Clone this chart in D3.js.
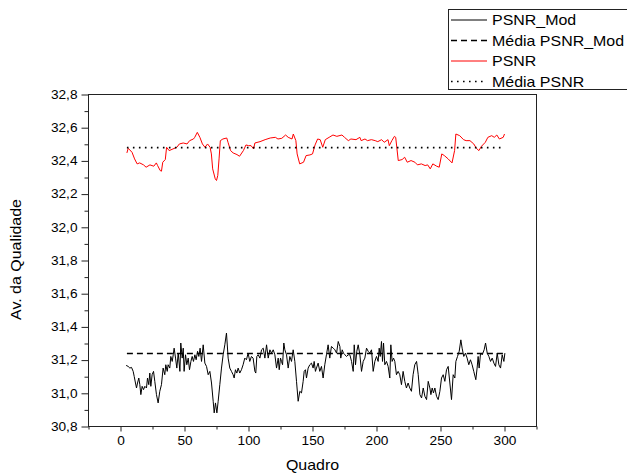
<!DOCTYPE html>
<html>
<head>
<meta charset="utf-8">
<script src="https://cdn.jsdelivr.net/npm/d3@7"></script>
<style>
  html, body { margin: 0; padding: 0; background: #fff; }
  svg { display: block; font-family: "Liberation Sans", Arial, sans-serif; }
</style>
</head>
<body>
<svg id="chart" width="627" height="475"></svg>
<script>
// PSNR per frame (red) and its mean
const psnrFrames = [5,6,9,11,13,15,18,20,23,26,28,29,31,32,33,35,36,38,41,44,46,49,52,54,57,58,60,62,64,66,68,70,71,72,74,75,76,77,78,80,83,84,86,88,91,93,96,98,100,102,104,105,109,113,117,121,123,126,129,131,134,135,137,138,140,143,145,148,150,152,154,156,158,160,163,166,169,173,175,178,180,184,187,188,191,193,196,199,201,204,206,209,210,212,214,215,216,217,220,222,224,227,230,232,235,238,240,242,244,247,249,251,253,256,259,261,262,265,268,270,273,276,278,280,282,285,287,290,292,294,296,299,300];
const psnrValues = [32.448,32.476,32.452,32.412,32.382,32.388,32.376,32.362,32.376,32.368,32.388,32.372,32.342,32.338,32.392,32.408,32.482,32.462,32.472,32.482,32.502,32.508,32.502,32.522,32.532,32.542,32.572,32.542,32.502,32.482,32.502,32.482,32.442,32.352,32.292,32.282,32.312,32.412,32.522,32.532,32.538,32.512,32.462,32.448,32.438,32.428,32.462,32.496,32.492,32.492,32.472,32.508,32.516,32.528,32.538,32.542,32.532,32.536,32.556,32.542,32.532,32.562,32.522,32.442,32.382,32.392,32.432,32.436,32.442,32.496,32.532,32.528,32.482,32.528,32.542,32.556,32.548,32.556,32.542,32.522,32.532,32.528,32.542,32.522,32.532,32.522,32.528,32.522,32.516,32.528,32.512,32.528,32.492,32.522,32.548,32.542,32.472,32.402,32.408,32.422,32.392,32.402,32.392,32.376,32.382,32.372,32.376,32.352,32.382,32.368,32.362,32.442,32.432,32.412,32.388,32.462,32.562,32.552,32.528,32.522,32.522,32.502,32.476,32.462,32.488,32.512,32.542,32.552,32.542,32.556,32.532,32.542,32.562];
const psnrMean = 32.48;

// PSNR_Mod per frame (black) and its mean
const modFrames = [4.4,6.0,7.3,8.6,9.9,10.7,11.7,12.5,13.3,14.3,15.1,15.9,16.9,18.0,19.0,20.3,21.1,22.1,22.9,23.7,24.7,25.8,26.8,28.1,29.4,30.7,32.0,33.3,34.6,35.4,36.5,37.2,38.5,39.3,40.4,41.2,41.9,43.0,44.0,45.1,46.4,47.1,48.2,49.0,49.7,50.8,51.8,52.9,53.9,55.0,56.0,57.0,58.1,59.1,60.2,61.2,62.2,63.3,64.6,65.9,67.2,68.5,69.8,71.1,72.4,73.2,74.2,75.3,76.3,77.6,78.9,80.2,81.5,82.8,84.1,85.4,86.7,88.0,88.8,89.8,90.9,91.9,93.2,94.5,95.8,97.1,98.4,99.7,101.0,102.3,103.6,105.0,105.7,106.5,107.6,108.9,110.2,111.5,112.8,114.1,115.4,116.7,118.0,119.3,120.6,121.9,123.2,124.0,125.0,125.8,126.6,127.6,128.4,129.7,131.0,132.3,133.6,134.9,136.2,137.5,138.8,140.1,141.4,142.7,143.5,144.5,145.3,146.6,147.9,149.2,150.5,151.3,152.3,153.1,154.4,155.7,157.0,158.3,159.6,160.9,162.2,163.5,164.8,166.2,167.5,168.8,170.1,171.4,172.1,173.2,174.2,175.3,176.6,177.9,179.2,180.5,181.8,182.6,183.6,184.6,185.7,187.0,188.3,189.6,190.9,192.2,193.5,194.8,196.1,197.4,198.7,200.0,201.3,202.1,202.9,203.9,204.7,205.5,206.5,207.8,209.1,210.4,211.2,212.2,213.3,214.3,215.6,216.9,218.2,219.5,220.8,222.1,223.4,224.7,226.0,227.3,228.6,229.9,231.3,232.6,233.9,235.2,236.5,237.8,239.1,240.4,241.7,242.5,243.5,244.5,245.6,246.9,248.2,249.5,250.8,252.1,253.4,254.7,256.0,257.3,258.6,259.9,261.2,262.0,263.3,264.6,265.9,266.9,268.2,269.5,270.8,272.1,273.4,274.7,276.0,277.6,278.6,279.4,280.2,281.3,282.6,284.1,285.2,286.5,287.8,289.1,290.4,291.7,293.0,294.3,295.6,296.9,298.2,299.5,300.3];
const modValues = [31.168,31.162,31.152,31.156,31.132,31.102,31.062,31.032,31.062,31.092,31.052,30.992,31.042,31.022,31.042,31.032,31.092,31.052,31.122,31.042,31.112,31.132,31.072,30.992,30.942,31.012,31.052,31.152,31.112,31.172,31.132,31.172,31.152,31.222,31.192,31.232,31.272,31.212,31.152,31.242,31.132,31.303,31.212,31.272,31.132,31.232,31.172,31.212,31.142,31.192,31.222,31.192,31.232,31.202,31.253,31.222,31.272,31.192,31.292,31.182,31.162,31.112,31.132,31.062,30.952,30.882,30.942,30.882,30.952,31.052,31.152,31.232,31.292,31.363,31.212,31.152,31.132,31.112,31.092,31.142,31.122,31.152,31.122,31.142,31.172,31.212,31.202,31.242,31.192,31.222,31.212,31.132,31.122,31.222,31.232,31.212,31.262,31.272,31.212,31.292,31.212,31.262,31.242,31.262,31.232,31.152,31.212,31.142,31.212,31.192,31.172,31.303,31.262,31.232,31.152,31.222,31.192,31.262,31.192,31.072,30.952,31.012,31.002,31.072,31.132,31.142,31.092,31.152,31.172,31.182,31.152,31.192,31.132,31.152,31.182,31.132,31.162,31.092,31.172,31.232,31.292,31.212,31.282,31.272,31.262,31.242,31.312,31.282,31.212,31.262,31.242,31.232,31.222,31.232,31.232,31.192,31.132,31.292,31.172,31.253,31.292,31.232,31.132,31.192,31.212,31.272,31.253,31.242,31.262,31.132,31.192,31.222,31.192,31.272,31.222,31.312,31.192,31.303,31.172,31.192,31.162,31.092,31.292,31.192,31.212,31.192,31.112,31.132,31.112,31.052,31.132,31.072,31.032,31.062,31.032,31.012,31.112,31.172,31.192,31.112,30.992,30.972,31.032,30.982,30.962,31.072,31.032,30.992,31.032,31.002,31.032,30.982,30.962,31.012,31.092,31.112,31.072,31.142,31.162,31.062,30.962,31.112,31.092,31.192,31.222,31.253,31.322,31.272,31.222,31.242,31.212,31.172,31.202,31.172,31.132,31.082,31.152,31.222,31.152,31.242,31.232,31.262,31.303,31.242,31.222,31.192,31.212,31.182,31.162,31.242,31.172,31.152,31.232,31.192,31.242];
const modMean = 31.24;

// Axes
const xTicks = [0, 50, 100, 150, 200, 250, 300];
const xMinorTicks = [-25, 25, 75, 125, 175, 225, 275, 325];
const yTicks = [30.8, 31.0, 31.2, 31.4, 31.6, 31.8, 32.0, 32.2, 32.4, 32.6, 32.8];
const yMinorTicks = [30.9, 31.1, 31.3, 31.5, 31.7, 31.9, 32.1, 32.3, 32.5, 32.7];
const yTickLabels = ["30,8", "31,0", "31,2", "31,4", "31,6", "31,8", "32,0", "32,2", "32,4", "32,6", "32,8"];
const xTitle = "Quadro";
const yTitle = "Av. da Qualidade";

// Legend entries
const legendLabels = ["PSNR_Mod", "Média PSNR_Mod", "PSNR", "Média PSNR"];

const svg = d3.select("#chart");
const plot = { left: 88.5, right: 536.5, top: 94.5, bottom: 426.5 };
const stretch = 1.14; // text is drawn slightly wide

const x = d3.scaleLinear().domain([-25, 325]).range([plot.left, plot.right]);
const y = d3.scaleLinear().domain([30.8, 32.8]).range([plot.bottom, plot.top]);

const styles = {
  psnrMod: { color: "#000", width: 1, dash: null },
  modMean: { color: "#000", width: 1.4, dash: "6,4" },
  psnr:    { color: "#ff0000", width: 1, dash: null },
  psnrMeanLine: { color: "#000", width: 1.6, dash: "1.6,4.4" }
};

// x axis (major + minor)
const gx = svg.append("g").attr("transform", `translate(0,${plot.bottom})`)
  .call(d3.axisBottom(x).tickValues(xTicks).tickSize(5).tickPadding(5).tickFormat(d3.format("d")));
gx.select(".domain").remove();
const gxm = svg.append("g").attr("transform", `translate(0,${plot.bottom})`)
  .call(d3.axisBottom(x).tickValues(xMinorTicks).tickSize(3).tickFormat(""));
gxm.select(".domain").remove();

// y axis (major + minor)
const gy = svg.append("g").attr("transform", `translate(${plot.left},0)`)
  .call(d3.axisLeft(y).tickValues(yTicks).tickSize(7).tickPadding(4)
    .tickFormat((d, i) => yTickLabels[i]));
gy.select(".domain").remove();
const gym = svg.append("g").attr("transform", `translate(${plot.left},0)`)
  .call(d3.axisLeft(y).tickValues(yMinorTicks).tickSize(4).tickFormat(""));
gym.select(".domain").remove();

svg.selectAll(".tick line").attr("stroke", "#222").attr("stroke-width", 1);
svg.selectAll(".tick text")
  .attr("font-family", "'Liberation Sans', Arial, sans-serif")
  .attr("font-size", 12).attr("fill", "#000");
gy.selectAll(".tick text").attr("x", -11 / stretch).attr("transform", `scale(${stretch},1)`);
gx.selectAll(".tick text").attr("transform", `scale(${stretch},1)`);

// plot frame
svg.append("rect")
  .attr("x", plot.left).attr("y", plot.top)
  .attr("width", plot.right - plot.left).attr("height", plot.bottom - plot.top)
  .attr("fill", "none").attr("stroke", "#222").attr("stroke-width", 1);

// series
const line = d3.line().x(d => x(d[0])).y(d => y(d[1]));
const psnrPts = psnrFrames.map((f, i) => [f, psnrValues[i]]);
const modPts = modFrames.map((f, i) => [f, modValues[i]]);
const firstFrame = 5, lastFrame = 300;

function draw(pts, st) {
  const p = svg.append("path").datum(pts).attr("d", line)
    .attr("fill", "none").attr("stroke", st.color).attr("stroke-width", st.width)
    .attr("stroke-linejoin", "round");
  if (st.dash) p.attr("stroke-dasharray", st.dash);
}
draw(modPts, styles.psnrMod);
draw([[firstFrame, modMean], [lastFrame, modMean]], styles.modMean);
draw(psnrPts, styles.psnr);
draw([[firstFrame, psnrMean], [lastFrame, psnrMean]], styles.psnrMeanLine);

// axis titles
svg.append("text")
  .attr("transform", `translate(${(plot.left + plot.right) / 2},470) scale(${stretch},1)`)
  .attr("text-anchor", "middle").attr("font-size", 14).text(xTitle);
svg.append("text")
  .attr("transform", `translate(21,${(plot.top + plot.bottom) / 2 - 1}) rotate(-90) scale(${stretch},1)`)
  .attr("text-anchor", "middle").attr("font-size", 14).text(yTitle);

// legend
const lg = svg.append("g");
lg.append("rect").attr("x", 448.5).attr("y", 9.5).attr("width", 190).attr("height", 80)
  .attr("fill", "#fff").attr("stroke", "#222").attr("stroke-width", 1);
const legendStyles = [styles.psnrMod, styles.modMean, styles.psnr, styles.psnrMeanLine];
const rowY = [20, 40.5, 61, 81.5];
legendLabels.forEach((lab, i) => {
  const st = legendStyles[i];
  const l = lg.append("line").attr("x1", 451).attr("x2", 487).attr("y1", rowY[i]).attr("y2", rowY[i])
    .attr("stroke", st.color).attr("stroke-width", st.width);
  if (st.dash) l.attr("stroke-dasharray", st.dash);
  lg.append("text").attr("transform", `translate(492,${rowY[i] + 5}) scale(${stretch},1)`)
    .attr("font-size", 14).text(lab);
});
</script>
</body>
</html>
